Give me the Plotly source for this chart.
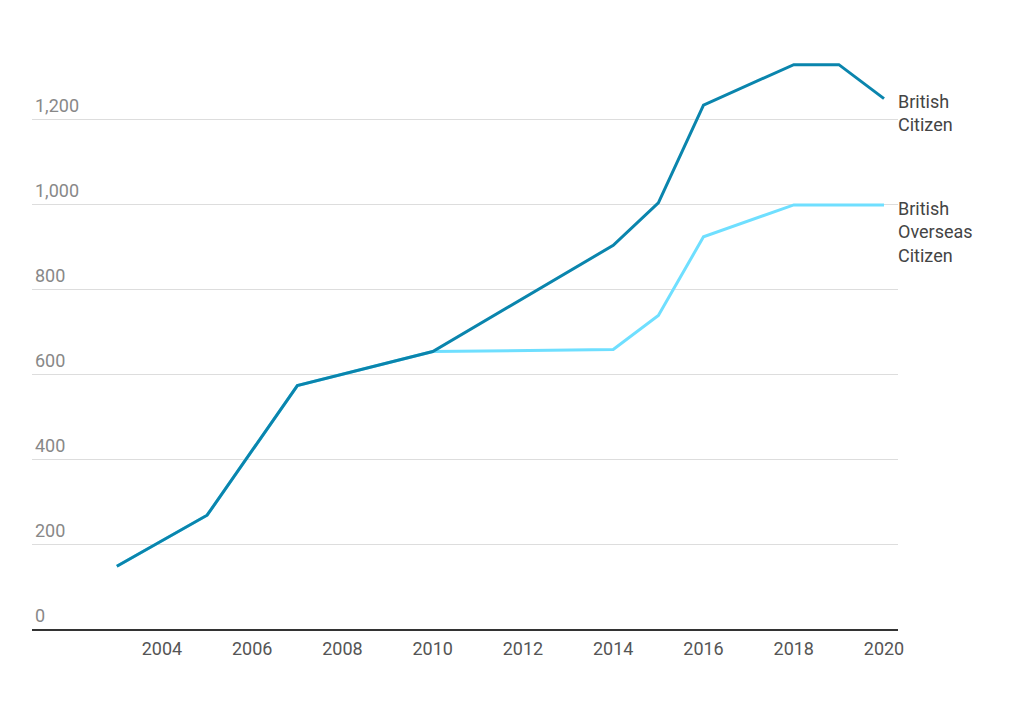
import plotly.graph_objects as go

years_bc = [2003, 2005, 2007, 2010, 2014, 2015, 2016, 2018, 2019, 2020]
british_citizen = [150, 270, 575, 655, 905, 1005, 1235, 1330, 1330, 1250]

years_boc = [2003, 2005, 2007, 2010, 2014, 2015, 2016, 2018, 2019, 2020]
british_overseas_citizen = [150, 270, 575, 655, 660, 740, 925, 1000, 1000, 1000]

x_ticks = [2004, 2006, 2008, 2010, 2012, 2014, 2016, 2018, 2020]
y_ticks = [0, 200, 400, 600, 800, 1000, 1200]
y_tick_labels = ["0", "200", "400", "600", "800", "1,000", "1,200"]

DARK = "#0a85ad"
LIGHT = "#6fdfff"
FONT = "Roboto"

fig = go.Figure()
fig.add_trace(go.Scatter(x=years_boc, y=british_overseas_citizen, mode="lines",
                         line=dict(color=LIGHT, width=3), name="British Overseas Citizen",
                         hoverinfo="x+y"))
fig.add_trace(go.Scatter(x=years_bc, y=british_citizen, mode="lines",
                         line=dict(color=DARK, width=3), name="British Citizen",
                         hoverinfo="x+y"))

fig.add_annotation(x=years_bc[-1], y=british_citizen[-1], xref="x", yref="y",
                   text="British<br>Citizen", showarrow=False, xanchor="left", yanchor="top",
                   align="left", xshift=12, yshift=10,
                   font=dict(family=FONT, size=18, color="#444444"))
fig.add_annotation(x=years_boc[-1], y=british_overseas_citizen[-1], xref="x", yref="y",
                   text="British<br>Overseas<br>Citizen", showarrow=False, xanchor="left",
                   yanchor="top", align="left", xshift=12, yshift=9,
                   font=dict(family=FONT, size=18, color="#444444"))

# y-axis labels sit just above their gridlines, inside the plot
for val, lab in zip(y_ticks, y_tick_labels):
    fig.add_annotation(x=0, y=val, xref="paper", yref="y", text=lab, showarrow=False,
                       xanchor="left", yanchor="bottom", xshift=1, yshift=2,
                       font=dict(family=FONT, size=18, color="#888888"))

fig.update_layout(
    width=1024, height=704,
    margin=dict(l=24, r=134, t=12, b=82),
    paper_bgcolor="white", plot_bgcolor="white",
    showlegend=False,
    font=dict(family=FONT),
    xaxis=dict(range=[2001.12, 2020.31], tickmode="array", tickvals=x_ticks,
               ticktext=[str(v) for v in x_ticks], showgrid=False, zeroline=False,
               showline=False, ticks="", ticklabelstandoff=6,
               tickfont=dict(family=FONT, size=18, color="#555555")),
    yaxis=dict(range=[0, 1435], tickmode="array", tickvals=y_ticks,
               showticklabels=False,
               showgrid=True, gridcolor="#dddddd", gridwidth=1,
               zeroline=True, zerolinecolor="#333333", zerolinewidth=1.5,
               showline=False, ticks=""),
)

fig.write_html("out.html")
